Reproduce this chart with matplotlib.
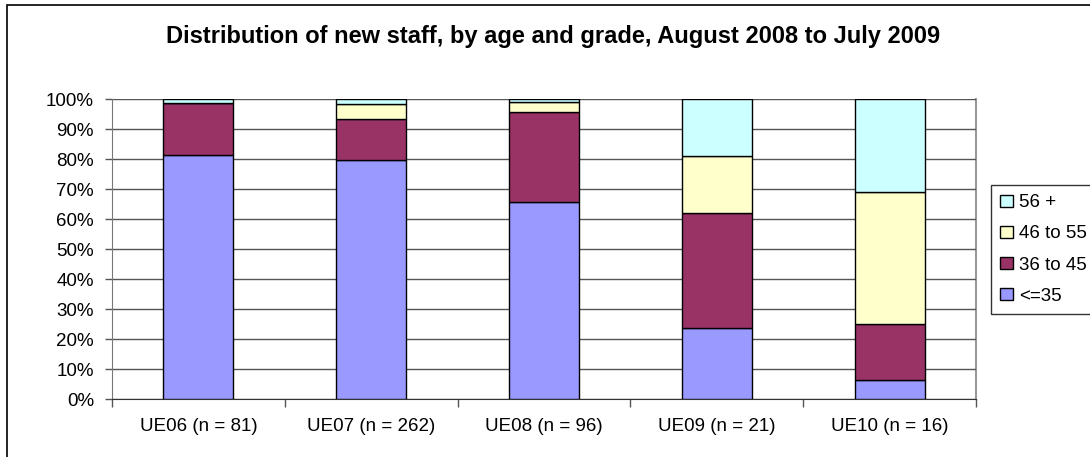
import matplotlib
matplotlib.use('Agg')
import matplotlib.pyplot as plt
import numpy as np
from matplotlib.patches import Rectangle

plt.rcParams['font.family'] = ['Liberation Sans', 'DejaVu Sans']

# data (percent of new staff per grade)
categories = ['UE06 (n = 81)', 'UE07 (n = 262)', 'UE08 (n = 96)', 'UE09 (n = 21)', 'UE10 (n = 16)']
age_le35 = [81.5, 79.8, 65.6, 23.8, 6.3]
age_36_45 = [17.3, 13.7, 30.2, 38.1, 18.8]
age_46_55 = [0.0, 5.0, 3.1, 19.0, 43.8]
age_56 = [1.2, 1.5, 1.1, 19.1, 31.1]
series_names = ['<=35', '36 to 45', '46 to 55', '56 +']
colors = ['#9999FF', '#993366', '#FFFFCC', '#CCFFFF']

fig = plt.figure(figsize=(10.9, 4.57), dpi=100)
ax = fig.add_axes([112/1090, 1-399/457, (976-112)/1090, 300/457])

x = np.arange(len(categories))
bottom = np.zeros(len(categories))
bars = []
for vals, name, col in zip([age_le35, age_36_45, age_46_55, age_56], series_names, colors):
    b = ax.bar(x, vals, width=0.405, bottom=bottom, color=col, edgecolor='black',
               linewidth=1.0, label=name, zorder=3)
    bars.append(b)
    bottom = bottom + np.array(vals)

ax.set_xlim(-0.5, len(categories) - 0.5)
ax.set_ylim(0, 100)
ax.set_yticks(np.arange(0, 101, 10))
ax.set_yticklabels(['%d%%' % v for v in range(0, 101, 10)], fontsize=13.5)
ax.yaxis.grid(True, color='#555555', linewidth=1.0, zorder=0)
ax.tick_params(axis='y', length=5, width=1, color='#555555', pad=8)

ax.set_xticks(x)
ax.set_xticklabels(categories, fontsize=13.5)
ax.tick_params(axis='x', which='major', length=0, pad=14)
ax.set_xticks(np.arange(-0.5, len(categories), 1), minor=True)
ax.tick_params(axis='x', which='minor', length=6, width=1, color='#555555')

for s in ['top', 'right']:
    ax.spines[s].set_visible(False)
ax.spines['left'].set_color('#777777')
ax.spines['bottom'].set_color('#333333')
ax.plot([1, 1], [0, 1], transform=ax.transAxes, color='#999999', lw=1.5, clip_on=False, zorder=1)

fig.text(553/1090, 1-43/457, 'Distribution of new staff, by age and grade, August 2008 to July 2009',
         ha='center', va='baseline', fontsize=17, fontweight='bold')

handles = bars[::-1]
leg = fig.legend(handles, series_names[::-1], loc='upper left',
                 bbox_to_anchor=(991/1090, 1-185/457), fontsize=13.5, frameon=True,
                 fancybox=False, handlelength=0.65, handleheight=0.65, handletextpad=0.35,
                 labelspacing=0.75, borderpad=0.5, borderaxespad=0)
leg.get_frame().set_edgecolor('black')
leg.get_frame().set_linewidth(1.0)

# outer chart border (right and bottom edges fall outside the image)
fig.patches.append(Rectangle((7/1090, -0.1), 1.1, 1.1 - 5/457, transform=fig.transFigure,
                             fill=False, edgecolor='black', linewidth=1.2))

fig.savefig('out.png', dpi=100)
